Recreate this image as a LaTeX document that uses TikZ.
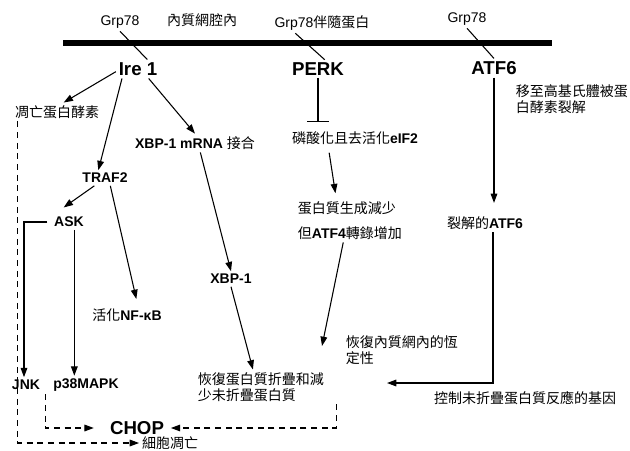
\documentclass[tikz,border=0pt]{standalone}
\usepackage{fontspec}
\setmainfont{Liberation Sans}
\newfontfamily\cjk{Noto Sans CJK TC}
\usepackage{tikz}
\usetikzlibrary{arrows.meta,positioning}
\newcommand{\zh}[1]{{\cjk #1}}

\tikzset{
  txt/.style={inner sep=2pt, font=\fontsize{10.5}{12}\selectfont, align=left},
  cn/.style={txt, font=\fontsize{10.5}{12}\selectfont\cjk},
  prot/.style={txt, font=\fontsize{14}{16}\selectfont\bfseries},
  plain/.style={line width=0.8pt},
  arr/.style={plain, -{Triangle[length=7pt,width=5pt]}},
  darr/.style={arr, dash pattern=on 4.5pt off 3.5pt}
}

\begin{document}
\begin{tikzpicture}[x=0.75pt, y=-0.75pt]
    \useasboundingbox (0,0) rectangle (630,450);
    \coordinate (memL) at (63,43);
    \coordinate (memR) at (552,43);
    \draw[line width=4.5pt] (memL) -- (memR);

    \node[txt] (grpA) at (120,22) {Grp78};
    \node[cn] (lumen) at (202,20) {內質網腔內};
    \node[txt] (grpB) at (322,23) {Grp78\zh{伴隨蛋白}};
    \node[txt] (grpC) at (467,19) {Grp78};

    \node[prot] (ire) at (138,69) {Ire 1};
    \node[prot] (perk) at (318,69) {PERK};
    \node[prot] (atf) at (494,68) {ATF6};
    \draw[plain] (grpA.south) -- ([xshift=7pt]ire.north);
    \draw[plain] ([xshift=-20pt]grpB.south) -- ([xshift=5pt]perk.north);
    \draw[plain] (grpC.south) -- (atf.north);

    % Ire 1 branch
    \node[cn] (casp) at (57,112) {凋亡蛋白酵素};
    \node[txt] (xbpm) at (195,143) {\textbf{XBP-1 mRNA} \zh{接合}};
    \node[txt] (traf) at (105,178) {\textbf{TRAF2}};
    \node[txt] (ask) at (69,222) {\textbf{ASK}};
    \node[txt] (nfkb) at (127,315) {\zh{活化}\textbf{NF-κB}};
    \node[txt] (xbp) at (231,279) {\textbf{XBP-1}};
    \node[txt] (jnk) at (26,385) {\textbf{JNK}};
    \node[txt] (p38) at (86,385) {\textbf{p38MAPK}};
    \node[prot] (chop) at (137,428) {CHOP};
    \node[cn] (apop) at (170,443) {細胞凋亡};
    \node[cn, anchor=west] (refold) at (195,387) {恢復蛋白質折疊和減\\少未折疊蛋白質};

    \draw[arr] ([yshift=-2pt]ire.west) -- ([xshift=5pt]casp.north);
    \draw[arr] ([xshift=-12pt]ire.south) -- ([xshift=-5pt]traf.north);
    \draw[arr] ([xshift=8pt]ire.south) -- (xbpm.north);
    \draw[arr] ([xshift=-8pt]traf.south) -- ([shift={(-4pt,5pt)}]ask.north);
    \draw[arr] ([xshift=4pt]traf.south) -- ([shift={(7pt,5pt)}]nfkb.north);
    \draw[arr] ([xshift=4pt]xbpm.south) -- (xbp.north);
    \draw[arr] (xbp.south) -- ([xshift=-6pt]refold.north);
    \draw[arr] ([xshift=4pt]ask.south) -- ([xshift=4pt]ask.south |- p38.north);
    \draw[arr] ([xshift=-3pt]ask.west) -| ([xshift=-1.5pt]jnk.north);
    \draw[darr] ([xshift=4pt]casp.south west) |- (apop.west);
    \draw[darr] ([xshift=-4pt]p38.south west) |- ([xshift=-10pt]chop.west);
    \draw[darr] ([xshift=7pt]refold.south east) |- ([xshift=3pt]chop.east);

    % PERK branch
    \node[txt] (eif) at (355,138) {\zh{磷酸化且去活化}\textbf{eIF2}};
    \node[cn, anchor=west] (synth) at (295,208) {蛋白質生成減少};
    \node[txt, below=18.75pt of synth.west, anchor=west] (atf4) {\zh{但}\textbf{ATF4}\zh{轉錄增加}};
    \node[cn, anchor=west] (homeo) at (343,350) {恢復內質網內的恆\\定性};
    \coordinate (homeoIn) at (322,346);

    \draw[plain, -{Bar[width=16pt]}, shorten >=5pt] (perk.south) -- (perk.south |- eif.north);
    \draw[arr, shorten <=4pt, shorten >=4pt] ([xshift=-20pt]eif.south) -- ([xshift=-8pt]synth.north);
    \draw[arr] ([xshift=-5pt]atf4.south) -- (homeoIn);

    % ATF6 branch
    \node[cn, anchor=west] (golgi) at (513,99) {移至高基氏體被蛋\\白酵素裂解};
    \node[txt] (catf) at (485,223) {\zh{裂解的}\textbf{ATF6}};
    \node[cn] (genes) at (525,398) {控制未折疊蛋白質反應的基因};
    \coordinate (atfIn) at (387,383);

    \draw[arr, shorten >=8pt] (atf.south) -- (atf.south |- catf.north);
    \draw[arr] ([xshift=6pt]catf.south) |- (atfIn);
\end{tikzpicture}
\end{document}
